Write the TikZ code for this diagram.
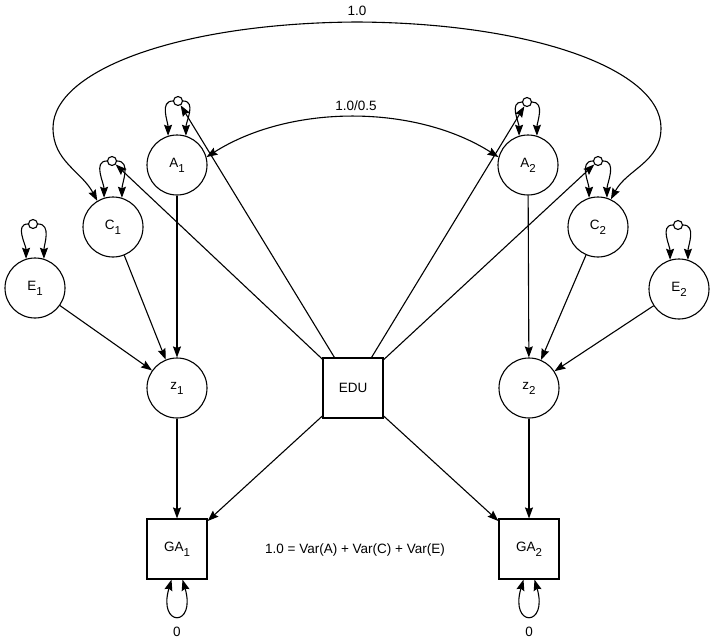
\documentclass[tikz,border=0pt]{standalone}
\usepackage{fontspec}
\setmainfont{Liberation Sans}
\usetikzlibrary{arrows.meta}
\newcommand\sbx[1]{\raisebox{-5pt}{\fontsize{11.5}{12}\selectfont #1}}
\begin{document}
\begin{tikzpicture}[x=1pt,y=-1pt,
  font=\fontsize{13.5}{16}\selectfont,
  lat/.style={circle,draw,line width=1.1pt,minimum size=60pt,inner sep=0pt},
  obs/.style={rectangle,draw,line width=1.1pt,minimum size=60pt,inner sep=0pt},
  knot/.style={circle,draw,fill=white,line width=1.1pt,minimum size=9pt,inner sep=0pt},
  tip/.tip={Stealth[length=11pt,width=8pt,inset=1.5pt]},
  arr/.style={-tip,line width=1.1pt},
  darr/.style={tip-tip,line width=1.1pt},
  lbl/.style={inner sep=0pt}]
\useasboundingbox (0,0) rectangle (714,642);

% latent variables
\node[lat] (A1) at (177,165) {A\sbx{1}};
\node[lat] (A2) at (528,165) {A\sbx{2}};
\node[lat] (C1) at (113,227) {C\sbx{1}};
\node[lat] (C2) at (598,227) {C\sbx{2}};
\node[lat] (E1) at (35,288) {E\sbx{1}};
\node[lat] (E2) at (679,289) {E\sbx{2}};
\node[lat] (z1) at (177,388) {z\sbx{1}};
\node[lat] (z2) at (529,388) {z\sbx{2}};
% observed
\node[obs] (EDU) at (353,388) {EDU};
\node[obs] (GA1) at (177,549) {GA\sbx{1}};
\node[obs] (GA2) at (529,549) {GA\sbx{2}};

% variance loops (knots)
\node[knot] (kA1) at (178,101) {};
\node[knot] (kA2) at (527,102) {};
\node[knot] (kC1) at (112,161) {};
\node[knot] (kC2) at (598,161) {};
\node[knot] (kE1) at (33,224) {};
\node[knot] (kE2) at (678,225) {};

\foreach \n in {A1,A2,C1,C2,E1,E2}{
  \draw[arr] (k\n) to[out=180,in=90] (\n.107);
  \draw[arr] (k\n) to[out=0,in=90] (\n.73);
}

% bottom loops
\foreach \n in {GA1,GA2}{
  \draw[darr] ([xshift=-5.5pt]\n.south) .. controls +(-14,48) and +(14,48) .. ([xshift=5.5pt]\n.south);
}

% paths
\draw[arr] (A1) -- (z1);
\draw[arr] (C1) -- (z1);
\draw[arr] (E1) -- (z1);
\draw[arr] (A2) -- (z2);
\draw[arr] (C2) -- (z2);
\draw[arr] (E2) -- (z2);
\draw[arr] (z1) -- (GA1);
\draw[arr] (z2) -- (GA2);
\draw[arr] (EDU) -- (GA1);
\draw[arr] (EDU) -- (GA2);
\draw[arr] (EDU) -- (kA1);
\draw[arr] (EDU) -- (kC1);
\draw[arr] (EDU) -- (kA2);
\draw[arr] (EDU) -- (kC2);

% correlations
\draw[darr] (A1.15) .. controls (290,104) and (415,104) .. (A2.165);
\coordinate (arcL) at (53,128);
\coordinate (arcT) at (357,22);
\coordinate (arcR) at (661,128);
\draw[darr] (C1.121) to[out=118,in=-90] (arcL)
  .. controls (53,70) and (180,23) .. (arcT)
  .. controls (534,23) and (661,70) .. (arcR)
  to[out=-90,in=62] (C2.65);

% labels
\node[lbl] (t1) at (357,10.5) {1.0};
\node[lbl] (t2) at (356,106) {1.0/0.5};
\node[lbl] (eq) at (355,550) {1.0 = Var(A) + Var(C) + Var(E)};
\node[lbl] (z01) at (177,632) {0};
\node[lbl] (z02) at (529,632) {0};
\end{tikzpicture}
\end{document}
